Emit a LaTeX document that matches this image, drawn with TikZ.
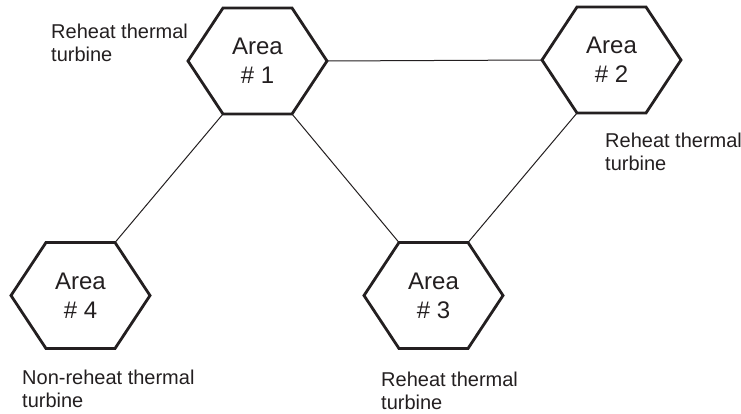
\documentclass[tikz,border=0pt]{standalone}
\usepackage{fontspec}
\setmainfont{Liberation Sans}
\definecolor{ink}{HTML}{231F20}
\newcommand\drawhexagon[4]{% name, x, y, text
  \begin{scope}[shift={(#2,#3)}]
    \coordinate (#1-l)  at (-69.5,0);
    \coordinate (#1-r)  at (69.5,0);
    \coordinate (#1-tl) at (-34.5,-53);
    \coordinate (#1-tr) at (34.5,-53);
    \coordinate (#1-bl) at (-34.5,53);
    \coordinate (#1-br) at (34.5,53);
    \node[areatext] (#1) at (0,0) {#4};
  \end{scope}
  \draw[hexline] (#1-l) -- (#1-tl) -- (#1-tr) -- (#1-r) -- (#1-br) -- (#1-bl) -- cycle;
}
\begin{document}
\begin{tikzpicture}[x=1pt,y=-1pt,
  hexline/.style={line width=2.8pt, line join=miter, draw=ink},
  link/.style={line width=1pt, draw=ink},
  areatext/.style={font=\fontsize{24}{29}\selectfont, align=center, text=ink, inner sep=0pt},
  labeltext/.style={font=\fontsize{20}{22.5}\selectfont, align=left, anchor=north west, text=ink, inner sep=0pt}]
\useasboundingbox (0,0) rectangle (741,414);
\drawhexagon{h1}{257.5}{61}{Area\\\# 1}
\drawhexagon{h2}{611.5}{60}{Area\\\# 2}
\drawhexagon{h3}{433.5}{295.5}{Area\\\# 3}
\drawhexagon{h4}{80.5}{295.5}{Area\\\# 4}
\draw[link] (h1-r) -- (h2-l);
\draw[link] (h1-bl) -- (h4-tr);
\draw[link] (h1-br) -- (h3-tl);
\draw[link] (h2-bl) -- (h3-tr);
\node[labeltext] (l1) at (51,24) {Reheat thermal\\turbine};
\node[labeltext] (l2) at (605,133) {Reheat thermal\\turbine};
\node[labeltext] (l4) at (22,370) {Non-reheat thermal\\turbine};
\node[labeltext] (l3) at (381,372) {Reheat thermal\\turbine};
\end{tikzpicture}
\end{document}
